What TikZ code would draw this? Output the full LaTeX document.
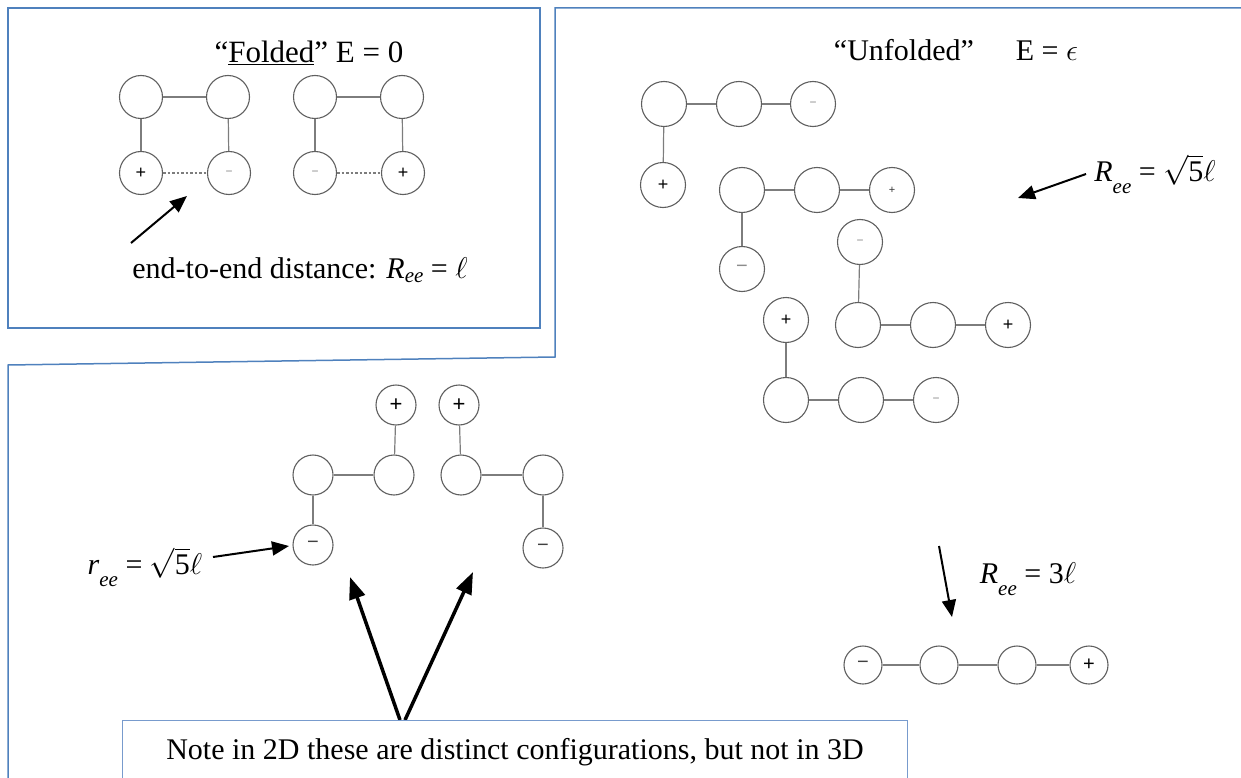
\RequirePackage{fix-cm}
\documentclass[tikz,border=0pt]{standalone}
\usepackage{fontspec}
\setmainfont{Liberation Serif}
\newfontfamily\signfont{Liberation Sans}
\usetikzlibrary{arrows.meta}
\definecolor{boxblue}{RGB}{79,129,189}
\definecolor{notebl}{RGB}{120,155,205}
\definecolor{beadgray}{RGB}{95,95,95}
\definecolor{bondgray}{RGB}{125,125,125}
\definecolor{signgray}{RGB}{140,140,140}
\newcommand{\myRee}[2]{{\itshape #1}\raisebox{#2}{\fontsize{21}{21}\selectfont\itshape ee}}
\begin{document}
\begin{tikzpicture}[x=1pt,y=-1pt,
  bead/.style={circle,draw=beadgray,line width=1.1pt,inner sep=0pt,fill=white},
  beadA/.style={bead,minimum size=43pt},
  beadB/.style={bead,minimum size=45pt},
  beadC/.style={bead,minimum size=40pt},
  beadD/.style={bead,minimum size=38pt},
  bond/.style={draw=bondgray,line width=1.2pt},
  dotbond/.style={draw=bondgray,line width=1.2pt,dash pattern=on 2.5pt off 2pt},
  plusb/.style={font=\signfont\fontsize{18}{18}\selectfont},
  plusbig/.style={font=\signfont\fontsize{22}{22}\selectfont},
  plust/.style={font=\signfont\fontsize{11}{11}\selectfont,text=black!80},
  minsm/.style={font=\signfont\fontsize{12}{12}\selectfont,text=signgray},
  minmd/.style={font=\signfont\fontsize{20}{20}\selectfont,text=black!75},
  boxline/.style={draw=boxblue,line width=1.5pt},
  txt/.style={font=\fontsize{30}{34}\selectfont,inner sep=0pt},
  arr/.style={-{Triangle[length=17pt,width=14pt]},line width=2pt},
  bigarr/.style={-{Triangle[length=22pt,width=16pt]},line width=3.5pt}
]
\useasboundingbox (0,0) rectangle (1241,778);
% boxes
\draw[boxline] (8,8) rectangle (540,328);
\draw[boxline] (1241,8) -- (555,8) -- (555,357) -- (8,365) -- (8,778);

% ---------- folded ----------
\node[txt,font=\fontsize{31}{34}\selectfont] (tfold) at (309,53) {“\underline{Folded}” E = 0};
\node[beadA] (a1) at (141,97) {};
\node[beadA] (a2) at (228,97) {};
\node[beadA,plusb] (a3) at (141,173) {+};
\node[beadA,minsm] (a4) at (229,173) {−};
\node[beadA] (b1) at (315,97) {};
\node[beadA] (b2) at (402,97) {};
\node[beadA,minsm] (b3) at (315,173) {−};
\node[beadA,plusb] (b4) at (403,173) {+};
\draw[bond] (a1) -- (a2);
\draw[bond] (a1) -- (a3);
\draw[bond] (a2) -- (a4);
\draw[dotbond] (a3) -- (a4);
\draw[bond] (b1) -- (b2);
\draw[bond] (b1) -- (b3);
\draw[bond] (b2) -- (b4);
\draw[dotbond] (b3) -- (b4);
\coordinate (f1s) at (131,243);
\coordinate (f1e) at (187,196);
\draw[arr] (f1s) -- (f1e);
\node[txt] (tend) at (300,270) {end-to-end distance: \myRee{R}{-0.12em} = $\ell$};

% ---------- unfolded ----------
\node[txt] (tunf) at (956,50) {“Unfolded”\hspace{1.4em}E = $\epsilon$};
\node[beadB] (u1) at (664,104) {};
\node[beadB] (u2) at (739,104) {};
\node[beadB,minsm] (u3) at (813,104) {−};
\node[beadB,plusb] (u4) at (663,185) {+};
\draw[bond] (u1) -- (u2);
\draw[bond] (u2) -- (u3);
\draw[bond] (u1) -- (u4);

\node[beadB] (v1) at (742,190) {};
\node[beadB] (v2) at (817,190) {};
\node[beadB,plust] (v3) at (892,190) {+};
\node[beadB,minmd,text=signgray] (v4) at (742,269) {−};
\draw[bond] (v1) -- (v2);
\draw[bond] (v2) -- (v3);
\draw[bond] (v1) -- (v4);

\node[beadB,minsm] (w0) at (860,242) {−};
\node[beadB] (w1) at (858,325) {};
\node[beadB] (w2) at (933,325) {};
\node[beadB,plusb] (w3) at (1008,325) {+};
\draw[bond] (w0) -- (w1);
\draw[bond] (w1) -- (w2);
\draw[bond] (w2) -- (w3);

\node[beadB,plusb] (x0) at (786,320) {+};
\node[beadB] (x1) at (786,400) {};
\node[beadB] (x2) at (861,400) {};
\node[beadB,minsm] (x3) at (936,400) {−};
\draw[bond] (x0) -- (x1);
\draw[bond] (x1) -- (x2);
\draw[bond] (x2) -- (x3);

\node[txt] (tr5) at (1155,174) {\myRee{R}{-0.4em} = $\sqrt{\mbox{5}}\ell$};
\coordinate (u5s) at (1086,174);
\coordinate (u5e) at (1018,198);
\draw[arr] (u5s) -- (u5e);

% ---------- straight chain ----------
\node[beadD,minmd] (r1) at (863,665) {−};
\node[beadD] (r2) at (939,665) {};
\node[beadD] (r3) at (1017,665) {};
\node[beadD,plusb,font=\signfont\fontsize{20}{20}\selectfont] (r4) at (1089,665) {+};
\draw[bond] (r1) -- (r2);
\draw[bond] (r2) -- (r3);
\draw[bond] (r3) -- (r4);
\node[txt] (tr3) at (1028,579) {\myRee{R}{-0.4em} = 3$\ell$};
\coordinate (s3s) at (939,546);
\coordinate (s3e) at (952,617);
\draw[arr] (s3s) -- (s3e);

% ---------- 2D configurations ----------
\node[beadC,plusbig] (p1) at (396,405) {+};
\node[beadC] (p2) at (394,475) {};
\node[beadC] (p3) at (313,475) {};
\node[beadC,minmd] (p4) at (313,545) {−};
\draw[bond] (p1) -- (p2);
\draw[bond] (p2) -- (p3);
\draw[bond] (p3) -- (p4);
\node[beadC,plusbig] (q1) at (459,405) {+};
\node[beadC] (q2) at (461,475) {};
\node[beadC] (q3) at (543,475) {};
\node[beadC,minmd] (q4) at (543,548) {−};
\draw[bond] (q1) -- (q2);
\draw[bond] (q2) -- (q3);
\draw[bond] (q3) -- (q4);

\node[txt] (tr2) at (145,567) {\myRee{r}{-0.4em} = $\sqrt{\mbox{5}}\ell$};
\coordinate (c2s) at (213,557);
\coordinate (c2e) at (289,546);
\draw[arr] (c2s) -- (c2e);

% note box
\coordinate (n1) at (400,720);
\coordinate (n2) at (405,720);
\coordinate (h1) at (350,577);
\coordinate (h2) at (473,572);
\draw[bigarr] (n1) -- (h1);
\draw[bigarr] (n2) -- (h2);
\draw[draw=notebl,line width=1pt] (122,778) -- (122,720) -- (907,720) -- (907,778);
\node[txt] (note) at (515,752) {Note in 2D these are distinct configurations, but not in 3D};
\end{tikzpicture}
\end{document}
